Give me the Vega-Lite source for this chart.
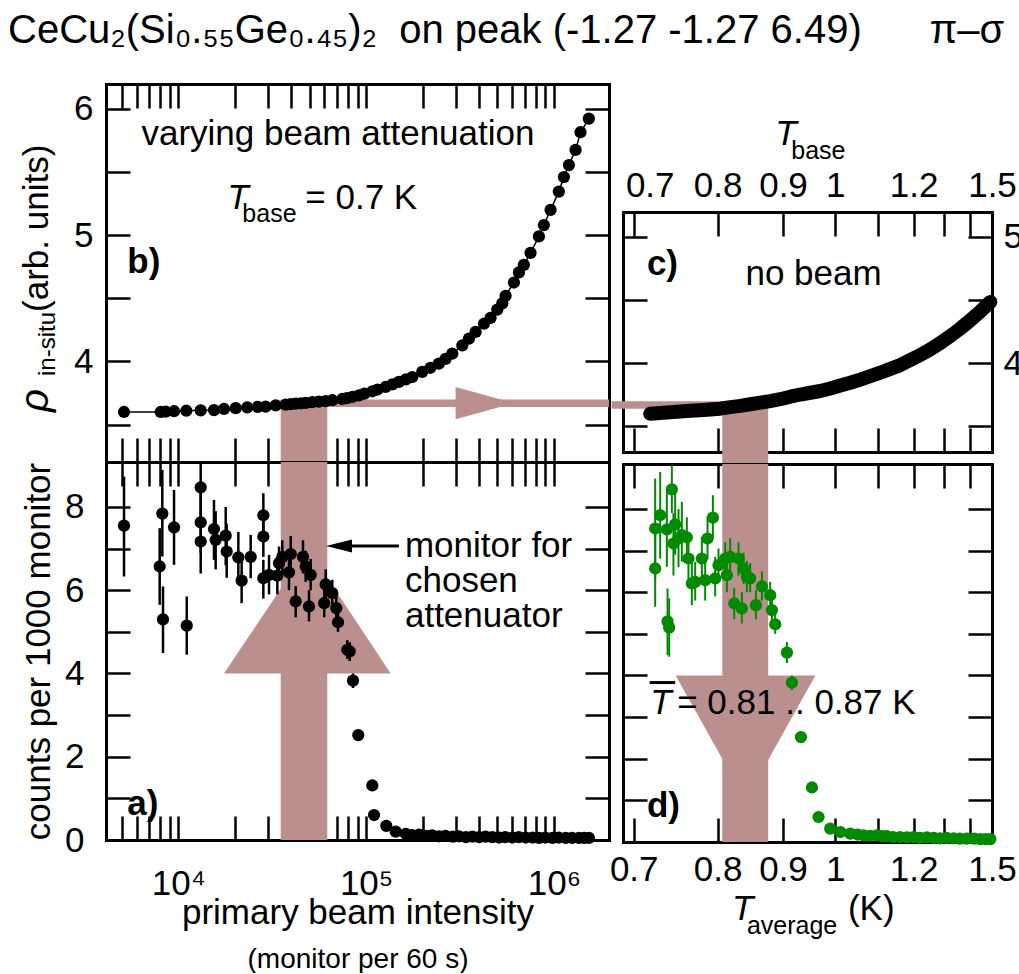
{
  "$schema": "https://vega.github.io/schema/vega-lite/v6.json",
  "background": "white",
  "padding": {"left": 8, "top": 10, "right": 0, "bottom": 0},
  "title": {"text": "CeCu₂(Si₀.₅₅Ge₀.₄₅)₂\u00a0 on peak (-1.27 -1.27 6.49)\u2003\u2002\u2009π–σ", "anchor": "start", "frame": "bounds", "fontSize": 40, "fontWeight": "normal", "font": "Liberation Sans", "color": "black", "baseline": "alphabetic", "offset": 0, "dx": -8},
  "config": {
    "font": "Liberation Sans",
    "view": {"stroke": null},
    "axis": {"grid": false, "domainColor": "black", "domainWidth": 3, "domainCap": "square", "tickColor": "black", "tickWidth": 2.5, "tickSize": -24, "labelFontSize": 35, "labelColor": "black", "labelFont": "Liberation Sans", "labelOverlap": false, "labelFlush": false, "titleFont": "Liberation Sans", "titleFontSize": 35, "titleFontWeight": "normal", "titleColor": "black", "zindex": 1},
    "text": {"font": "Liberation Sans", "fontSize": 35, "color": "black"}
  },
  "datasets": {
    "rho_beam": [
      {"mon": 5140, "rho": 3.600}, {"mon": 8060, "rho": 3.600}, {"mon": 8570, "rho": 3.602}, {"mon": 9490, "rho": 3.606},
      {"mon": 11030, "rho": 3.610}, {"mon": 13160, "rho": 3.613}, {"mon": 15490, "rho": 3.615}, {"mon": 17510, "rho": 3.624},
      {"mon": 20210, "rho": 3.630}, {"mon": 23290, "rho": 3.637}, {"mon": 26500, "rho": 3.641}, {"mon": 29170, "rho": 3.643},
      {"mon": 33000, "rho": 3.652}, {"mon": 37300, "rho": 3.658}, {"mon": 39700, "rho": 3.662}, {"mon": 42200, "rho": 3.666},
      {"mon": 45000, "rho": 3.669}, {"mon": 47700, "rho": 3.672}, {"mon": 51700, "rho": 3.678}, {"mon": 56000, "rho": 3.682},
      {"mon": 60900, "rho": 3.686}, {"mon": 66100, "rho": 3.693}, {"mon": 74700, "rho": 3.703}, {"mon": 79000, "rho": 3.710},
      {"mon": 84500, "rho": 3.719}, {"mon": 91700, "rho": 3.732}, {"mon": 98000, "rho": 3.745}, {"mon": 108000, "rho": 3.764},
      {"mon": 115000, "rho": 3.778}, {"mon": 127000, "rho": 3.798}, {"mon": 138000, "rho": 3.818}, {"mon": 149600, "rho": 3.838},
      {"mon": 163000, "rho": 3.858}, {"mon": 176200, "rho": 3.877}, {"mon": 199000, "rho": 3.917}, {"mon": 220000, "rho": 3.950},
      {"mon": 244000, "rho": 3.983}, {"mon": 265000, "rho": 4.020}, {"mon": 287700, "rho": 4.062}, {"mon": 325300, "rho": 4.128},
      {"mon": 353000, "rho": 4.181}, {"mon": 383000, "rho": 4.234}, {"mon": 424300, "rho": 4.299}, {"mon": 460000, "rho": 4.345},
      {"mon": 499400, "rho": 4.410}, {"mon": 531000, "rho": 4.460}, {"mon": 553000, "rho": 4.520}, {"mon": 612500, "rho": 4.625},
      {"mon": 651600, "rho": 4.705}, {"mon": 692000, "rho": 4.765}, {"mon": 751000, "rho": 4.860}, {"mon": 832000, "rho": 4.990},
      {"mon": 884000, "rho": 5.080}, {"mon": 960000, "rho": 5.200}, {"mon": 1062000, "rho": 5.345}, {"mon": 1130000, "rho": 5.460},
      {"mon": 1202000, "rho": 5.555}, {"mon": 1304000, "rho": 5.675}, {"mon": 1386000, "rho": 5.815}, {"mon": 1535000, "rho": 5.923}
    ],
    "cnt_beam": [
      {"mon": 5140, "cnt": 7.55, "lo": 6.33, "hi": 8.73}, {"mon": 7960, "cnt": 6.57, "lo": 5.65, "hi": 7.49},
      {"mon": 8220, "cnt": 7.84, "lo": 6.81, "hi": 8.89}, {"mon": 8290, "cnt": 5.30, "lo": 4.49, "hi": 6.09},
      {"mon": 9490, "cnt": 7.51, "lo": 6.61, "hi": 8.41}, {"mon": 11090, "cnt": 5.15, "lo": 4.45, "hi": 5.85},
      {"mon": 13160, "cnt": 8.47, "lo": 7.90, "hi": 9.05}, {"mon": 13160, "cnt": 7.63, "lo": 6.90, "hi": 8.40},
      {"mon": 13160, "cnt": 7.17, "lo": 6.40, "hi": 7.90}, {"mon": 15490, "cnt": 7.47, "lo": 6.73, "hi": 8.17},
      {"mon": 15810, "cnt": 7.21, "lo": 6.50, "hi": 7.90}, {"mon": 17880, "cnt": 7.31, "lo": 6.60, "hi": 8.00},
      {"mon": 18100, "cnt": 6.93, "lo": 6.30, "hi": 7.60}, {"mon": 20880, "cnt": 6.79, "lo": 6.20, "hi": 7.40},
      {"mon": 21740, "cnt": 6.23, "lo": 5.69, "hi": 6.77}, {"mon": 24290, "cnt": 6.80, "lo": 6.29, "hi": 7.33},
      {"mon": 28370, "cnt": 7.80, "lo": 7.29, "hi": 8.33}, {"mon": 28370, "cnt": 7.29, "lo": 6.80, "hi": 7.80},
      {"mon": 28370, "cnt": 6.29, "lo": 5.80, "hi": 6.73}, {"mon": 30410, "cnt": 6.37, "lo": 5.90, "hi": 6.85},
      {"mon": 33680, "cnt": 6.35, "lo": 5.90, "hi": 6.80}, {"mon": 34380, "cnt": 6.65, "lo": 6.25, "hi": 7.05},
      {"mon": 35800, "cnt": 6.80, "lo": 6.40, "hi": 7.20}, {"mon": 38850, "cnt": 6.43, "lo": 6.00, "hi": 6.85},
      {"mon": 39700, "cnt": 6.87, "lo": 6.45, "hi": 7.30}, {"mon": 42170, "cnt": 5.73, "lo": 5.35, "hi": 6.10},
      {"mon": 46130, "cnt": 6.80, "lo": 6.40, "hi": 7.20}, {"mon": 47670, "cnt": 6.57, "lo": 6.20, "hi": 6.95},
      {"mon": 49640, "cnt": 5.61, "lo": 5.25, "hi": 6.00}, {"mon": 50670, "cnt": 6.37, "lo": 6.00, "hi": 6.75},
      {"mon": 59840, "cnt": 5.69, "lo": 5.35, "hi": 6.05}, {"mon": 60920, "cnt": 6.14, "lo": 5.80, "hi": 6.50},
      {"mon": 66070, "cnt": 5.93, "lo": 5.60, "hi": 6.25}, {"mon": 69350, "cnt": 5.57, "lo": 5.30, "hi": 5.85},
      {"mon": 70850, "cnt": 5.23, "lo": 5.00, "hi": 5.50}, {"mon": 79400, "cnt": 4.57, "lo": 4.35, "hi": 4.80},
      {"mon": 81770, "cnt": 4.53, "lo": 4.30, "hi": 4.75}, {"mon": 85150, "cnt": 3.83, "lo": 3.65, "hi": 4.00},
      {"mon": 90850, "cnt": 2.52, "lo": 2.40, "hi": 2.65}, {"mon": 107900, "cnt": 1.31, "lo": 1.22, "hi": 1.40},
      {"mon": 110200, "cnt": 0.60, "lo": 0.55, "hi": 0.65}, {"mon": 128100, "cnt": 0.34, "lo": 0.30, "hi": 0.38},
      {"mon": 143800, "cnt": 0.20}, {"mon": 162500, "cnt": 0.15}, {"mon": 175000, "cnt": 0.12}, {"mon": 191300, "cnt": 0.13},
      {"mon": 210000, "cnt": 0.10}, {"mon": 225000, "cnt": 0.11}, {"mon": 245000, "cnt": 0.09}, {"mon": 264800, "cnt": 0.10},
      {"mon": 290000, "cnt": 0.08}, {"mon": 312500, "cnt": 0.09}, {"mon": 340000, "cnt": 0.07}, {"mon": 368000, "cnt": 0.08},
      {"mon": 400000, "cnt": 0.07}, {"mon": 432500, "cnt": 0.08}, {"mon": 470000, "cnt": 0.07}, {"mon": 510300, "cnt": 0.06},
      {"mon": 550000, "cnt": 0.07}, {"mon": 600800, "cnt": 0.06}, {"mon": 650000, "cnt": 0.07}, {"mon": 707900, "cnt": 0.06},
      {"mon": 770000, "cnt": 0.06}, {"mon": 833700, "cnt": 0.05}, {"mon": 900000, "cnt": 0.06}, {"mon": 981700, "cnt": 0.05},
      {"mon": 1060000, "cnt": 0.06}, {"mon": 1156000, "cnt": 0.05}, {"mon": 1250000, "cnt": 0.05}, {"mon": 1361000, "cnt": 0.05},
      {"mon": 1450000, "cnt": 0.05}, {"mon": 1535000, "cnt": 0.05}
    ],
    "rho_T": [
      {"T": 0.7176, "rho": 3.600}, {"T": 0.7287, "rho": 3.606}, {"T": 0.7402, "rho": 3.612}, {"T": 0.7520, "rho": 3.617},
      {"T": 0.7642, "rho": 3.623}, {"T": 0.7769, "rho": 3.628}, {"T": 0.7899, "rho": 3.634}, {"T": 0.8034, "rho": 3.640},
      {"T": 0.8174, "rho": 3.652}, {"T": 0.8319, "rho": 3.662}, {"T": 0.8468, "rho": 3.675}, {"T": 0.8624, "rho": 3.688},
      {"T": 0.8785, "rho": 3.700}, {"T": 0.8952, "rho": 3.715}, {"T": 0.9126, "rho": 3.735}, {"T": 0.9307, "rho": 3.752},
      {"T": 0.9495, "rho": 3.766}, {"T": 0.9691, "rho": 3.780}, {"T": 0.9895, "rho": 3.800}, {"T": 1.0108, "rho": 3.823},
      {"T": 1.0330, "rho": 3.845}, {"T": 1.0562, "rho": 3.870}, {"T": 1.0805, "rho": 3.897}, {"T": 1.1059, "rho": 3.925},
      {"T": 1.1325, "rho": 3.955}, {"T": 1.1605, "rho": 3.985}, {"T": 1.1899, "rho": 4.025}, {"T": 1.2208, "rho": 4.065},
      {"T": 1.2533, "rho": 4.110}, {"T": 1.2877, "rho": 4.160}, {"T": 1.3239, "rho": 4.215}, {"T": 1.3623, "rho": 4.275},
      {"T": 1.4030, "rho": 4.340}, {"T": 1.4462, "rho": 4.410}, {"T": 1.4921, "rho": 4.485}
    ],
    "cnt_T": [
      {"T": 0.7231, "cnt": 7.53, "lo": 6.33, "hi": 8.73}, {"T": 0.7231, "cnt": 6.57, "lo": 5.65, "hi": 7.49},
      {"T": 0.7287, "cnt": 7.85, "lo": 6.81, "hi": 8.89}, {"T": 0.7363, "cnt": 7.51, "lo": 6.61, "hi": 8.41},
      {"T": 0.7371, "cnt": 5.30, "lo": 4.49, "hi": 6.09}, {"T": 0.7390, "cnt": 5.15, "lo": 4.45, "hi": 5.85},
      {"T": 0.7421, "cnt": 8.47, "lo": 7.90, "hi": 9.05}, {"T": 0.7460, "cnt": 7.63, "lo": 6.90, "hi": 8.40},
      {"T": 0.7440, "cnt": 7.17, "lo": 6.40, "hi": 7.90}, {"T": 0.7500, "cnt": 7.29, "lo": 6.60, "hi": 8.00},
      {"T": 0.7540, "cnt": 7.37, "lo": 6.73, "hi": 8.17}, {"T": 0.7601, "cnt": 7.32, "lo": 6.80, "hi": 7.80},
      {"T": 0.7621, "cnt": 6.81, "lo": 6.20, "hi": 7.40}, {"T": 0.7663, "cnt": 6.21, "lo": 5.69, "hi": 6.77},
      {"T": 0.7705, "cnt": 6.25, "lo": 5.80, "hi": 6.73}, {"T": 0.7790, "cnt": 6.81, "lo": 6.29, "hi": 7.33},
      {"T": 0.7833, "cnt": 6.29, "lo": 5.80, "hi": 6.80}, {"T": 0.7864, "cnt": 7.29, "lo": 6.80, "hi": 7.80},
      {"T": 0.7935, "cnt": 7.79, "lo": 7.29, "hi": 8.33}, {"T": 0.7966, "cnt": 6.33, "lo": 5.90, "hi": 6.85},
      {"T": 0.8011, "cnt": 6.65, "lo": 6.25, "hi": 7.05}, {"T": 0.8103, "cnt": 6.81, "lo": 6.40, "hi": 7.20},
      {"T": 0.8127, "cnt": 6.41, "lo": 6.00, "hi": 6.85}, {"T": 0.8174, "cnt": 6.85, "lo": 6.45, "hi": 7.30},
      {"T": 0.8231, "cnt": 5.73, "lo": 5.35, "hi": 6.10}, {"T": 0.8294, "cnt": 6.81, "lo": 6.40, "hi": 7.20},
      {"T": 0.8343, "cnt": 5.61, "lo": 5.25, "hi": 6.00}, {"T": 0.8368, "cnt": 6.57, "lo": 6.20, "hi": 6.95},
      {"T": 0.8418, "cnt": 6.37, "lo": 6.00, "hi": 6.75}, {"T": 0.8468, "cnt": 6.33, "lo": 6.00, "hi": 6.70},
      {"T": 0.8556, "cnt": 5.69, "lo": 5.35, "hi": 6.05}, {"T": 0.8651, "cnt": 6.14, "lo": 5.80, "hi": 6.50},
      {"T": 0.8785, "cnt": 5.93, "lo": 5.60, "hi": 6.25}, {"T": 0.8813, "cnt": 5.57, "lo": 5.30, "hi": 5.85},
      {"T": 0.8868, "cnt": 5.23, "lo": 5.00, "hi": 5.50}, {"T": 0.9068, "cnt": 4.55, "lo": 4.30, "hi": 4.80},
      {"T": 0.9156, "cnt": 3.83, "lo": 3.65, "hi": 4.00}, {"T": 0.9320, "cnt": 2.52, "lo": 2.40, "hi": 2.65},
      {"T": 0.9528, "cnt": 1.31, "lo": 1.22, "hi": 1.40}, {"T": 0.9657, "cnt": 0.60, "lo": 0.55, "hi": 0.65},
      {"T": 0.9895, "cnt": 0.32, "lo": 0.29, "hi": 0.35},
      {"T": 1.011, "cnt": 0.24}, {"T": 1.033, "cnt": 0.20}, {"T": 1.050, "cnt": 0.18}, {"T": 1.064, "cnt": 0.16},
      {"T": 1.080, "cnt": 0.15}, {"T": 1.097, "cnt": 0.16}, {"T": 1.110, "cnt": 0.14}, {"T": 1.123, "cnt": 0.14},
      {"T": 1.140, "cnt": 0.12}, {"T": 1.160, "cnt": 0.12}, {"T": 1.180, "cnt": 0.11}, {"T": 1.200, "cnt": 0.12},
      {"T": 1.220, "cnt": 0.10}, {"T": 1.242, "cnt": 0.11}, {"T": 1.265, "cnt": 0.10}, {"T": 1.287, "cnt": 0.09},
      {"T": 1.310, "cnt": 0.10}, {"T": 1.336, "cnt": 0.09}, {"T": 1.360, "cnt": 0.08}, {"T": 1.388, "cnt": 0.08},
      {"T": 1.420, "cnt": 0.08}, {"T": 1.446, "cnt": 0.07}, {"T": 1.470, "cnt": 0.07}, {"T": 1.492, "cnt": 0.07}
    ],
    "head_a": [{"mon": 17500, "base": 4.0, "tip": 4.0}, {"mon": 48900, "base": 4.0, "tip": 7.0}, {"mon": 135200, "base": 4.0, "tip": 4.0}],
    "head_b": [{"rho": 3.798, "from": 299800, "to": 299800}, {"rho": 3.670, "from": 299800, "to": 613400}, {"rho": 3.542, "from": 299800, "to": 299800}],
    "head_d": [{"T": 0.7466, "base": 4.0, "tip": 4.0}, {"T": 0.8398, "base": 4.0, "tip": 1.0}, {"T": 0.9595, "base": 4.0, "tip": 4.0}]
  },
  "spacing": -2,
  "hconcat": [
    {
      "bounds": "flush",
      "spacing": 0,
      "vconcat": [
        {
          "width": 503, "height": 378,
          "resolve": {"axis": {"x": "independent", "y": "independent"}},
          "layer": [
            {"data": {"values": [{}]}, "mark": {"type": "rect", "color": "#bc8f8f"},
             "encoding": {"x": {"datum": 35100, "type": "quantitative", "scale": {"type": "log", "domain": [4121, 1965000], "nice": false}, "axis": null}, "x2": {"datum": 62130},
                          "y": {"datum": 3.204, "type": "quantitative", "scale": {"domain": [3.204, 6.197], "nice": false, "zero": false}, "axis": null}, "y2": {"datum": 3.699}}},
            {"data": {"values": [{}]}, "mark": {"type": "rect", "color": "#bc8f8f"},
             "encoding": {"x": {"datum": 60000, "type": "quantitative", "scale": {"type": "log", "domain": [4121, 1965000], "nice": false}, "axis": null}, "x2": {"datum": 1965000},
                          "y": {"datum": 3.640, "type": "quantitative", "scale": {"domain": [3.204, 6.197], "nice": false, "zero": false}, "axis": null}, "y2": {"datum": 3.699}}},
            {"data": {"name": "head_b"}, "mark": {"type": "area", "orient": "horizontal", "color": "#bc8f8f", "opacity": 1},
             "encoding": {"y": {"field": "rho", "type": "quantitative", "scale": {"domain": [3.204, 6.197], "nice": false, "zero": false}, "axis": null},
                          "x": {"field": "from", "type": "quantitative", "scale": {"type": "log", "domain": [4121, 1965000], "nice": false}, "axis": null}, "x2": {"field": "to"}}},
            {"data": {"name": "rho_beam"}, "mark": {"type": "line", "color": "black", "strokeWidth": 1.5},
             "encoding": {
               "x": {"field": "mon", "type": "quantitative", "scale": {"type": "log", "domain": [4121, 1965000], "nice": false},
                     "axis": {"orient": "top", "values": [5000,6000,7000,8000,9000,10000,20000,30000,40000,50000,60000,70000,80000,90000,100000,200000,300000,400000,500000,600000,700000,800000,900000,1000000], "labels": false, "title": null,
                              "encode": {"ticks": {"update": {"y2": {"signal": "datum.value == 10000 || datum.value == 100000 || datum.value == 1000000 ? 24 : 12"}}}}}},
               "y": {"field": "rho", "type": "quantitative", "scale": {"domain": [3.204, 6.197], "nice": false, "zero": false},
                     "axis": {"orient": "right", "values": [3.5,4,4.5,5,5.5,6], "labels": false, "title": null,
                              "encode": {"ticks": {"update": {"x2": {"signal": "datum.value % 1 == 0 ? -24 : -12"}}}}}}}},
            {"data": {"name": "rho_beam"}, "mark": {"type": "circle", "color": "black", "opacity": 1, "size": 150},
             "encoding": {
               "x": {"field": "mon", "type": "quantitative", "scale": {"type": "log", "domain": [4121, 1965000], "nice": false},
                     "axis": {"orient": "bottom", "values": [5000,6000,7000,8000,9000,10000,20000,30000,40000,50000,60000,70000,80000,90000,100000,200000,300000,400000,500000,600000,700000,800000,900000,1000000], "labels": false, "title": null,
                              "encode": {"ticks": {"update": {"y2": {"signal": "datum.value == 10000 || datum.value == 100000 || datum.value == 1000000 ? -24 : -12"}}}}}},
               "y": {"field": "rho", "type": "quantitative", "scale": {"domain": [3.204, 6.197], "nice": false, "zero": false},
                     "axis": {"orient": "left", "values": [3.5,4,4.5,5,5.5,6], "labelExpr": "datum.value % 1 == 0 ? '' + datum.value : ''", "labelPadding": 37, "title": null,
                              "encode": {"ticks": {"update": {"x2": {"signal": "datum.value % 1 == 0 ? 24 : 12"}}}}}}}},
            {"data": {"values": [{}]}, "mark": {"type": "text", "text": "varying beam attenuation", "align": "center", "baseline": "alphabetic"},
             "encoding": {"x": {"datum": 70800, "type": "quantitative", "scale": {"type": "log", "domain": [4121, 1965000], "nice": false}, "axis": null},
                          "y": {"datum": 5.712, "type": "quantitative", "scale": {"domain": [3.204, 6.197], "nice": false, "zero": false}, "axis": null}}},
            {"data": {"values": [{}]}, "mark": {"type": "text", "text": "T", "fontStyle": "italic", "align": "left", "baseline": "alphabetic"},
             "encoding": {"x": {"datum": 18240, "type": "quantitative", "scale": {"type": "log", "domain": [4121, 1965000], "nice": false}, "axis": null},
                          "y": {"datum": 5.207, "type": "quantitative", "scale": {"domain": [3.204, 6.197], "nice": false, "zero": false}, "axis": null}}},
            {"data": {"values": [{}]}, "mark": {"type": "text", "text": "base", "fontSize": 25, "dx": 15, "dy": 13, "align": "left", "baseline": "alphabetic"},
             "encoding": {"x": {"datum": 18240, "type": "quantitative", "scale": {"type": "log", "domain": [4121, 1965000], "nice": false}, "axis": null},
                          "y": {"datum": 5.207, "type": "quantitative", "scale": {"domain": [3.204, 6.197], "nice": false, "zero": false}, "axis": null}}},
            {"data": {"values": [{}]}, "mark": {"type": "text", "text": "= 0.7 K", "dx": 78, "align": "left", "baseline": "alphabetic"},
             "encoding": {"x": {"datum": 18240, "type": "quantitative", "scale": {"type": "log", "domain": [4121, 1965000], "nice": false}, "axis": null},
                          "y": {"datum": 5.207, "type": "quantitative", "scale": {"domain": [3.204, 6.197], "nice": false, "zero": false}, "axis": null}}},
            {"data": {"values": [{}]}, "mark": {"type": "text", "text": "b)", "fontWeight": "bold", "align": "left", "baseline": "alphabetic"},
             "encoding": {"x": {"datum": 5350, "type": "quantitative", "scale": {"type": "log", "domain": [4121, 1965000], "nice": false}, "axis": null},
                          "y": {"datum": 4.70, "type": "quantitative", "scale": {"domain": [3.204, 6.197], "nice": false, "zero": false}, "axis": null}}},
            {"data": {"values": [{}]}, "mark": {"type": "text", "text": "ρ", "fontStyle": "italic", "fontSize": 40, "angle": 270, "align": "left", "baseline": "alphabetic"},
             "encoding": {"x": {"datum": 2024, "type": "quantitative", "scale": {"type": "log", "domain": [4121, 1965000], "nice": false}, "axis": null},
                          "y": {"datum": 3.600, "type": "quantitative", "scale": {"domain": [3.204, 6.197], "nice": false, "zero": false}, "axis": null}}},
            {"data": {"values": [{}]}, "mark": {"type": "text", "text": "in-situ", "fontSize": 24, "angle": 270, "dx": 36, "dy": 7, "align": "left", "baseline": "alphabetic"},
             "encoding": {"x": {"datum": 2024, "type": "quantitative", "scale": {"type": "log", "domain": [4121, 1965000], "nice": false}, "axis": null},
                          "y": {"datum": 3.600, "type": "quantitative", "scale": {"domain": [3.204, 6.197], "nice": false, "zero": false}, "axis": null}}},
            {"data": {"values": [{}]}, "mark": {"type": "text", "text": "(arb. units)", "angle": 270, "dx": 100, "align": "left", "baseline": "alphabetic"},
             "encoding": {"x": {"datum": 2024, "type": "quantitative", "scale": {"type": "log", "domain": [4121, 1965000], "nice": false}, "axis": null},
                          "y": {"datum": 3.600, "type": "quantitative", "scale": {"domain": [3.204, 6.197], "nice": false, "zero": false}, "axis": null}}}
          ]
        },
        {
          "width": 503, "height": 378,
          "resolve": {"axis": {"x": "independent", "y": "independent"}},
          "layer": [
            {"data": {"values": [{}]}, "mark": {"type": "rect", "color": "#bc8f8f"},
             "encoding": {"x": {"datum": 35100, "type": "quantitative", "scale": {"type": "log", "domain": [4121, 1965000], "nice": false}, "axis": null}, "x2": {"datum": 62130},
                          "y": {"datum": 0, "type": "quantitative", "scale": {"domain": [0, 9.08], "nice": false, "zero": false}, "axis": null}, "y2": {"datum": 9.08}}},
            {"data": {"name": "head_a"}, "mark": {"type": "area", "color": "#bc8f8f", "opacity": 1},
             "encoding": {"x": {"field": "mon", "type": "quantitative", "scale": {"type": "log", "domain": [4121, 1965000], "nice": false}, "axis": null},
                          "y": {"field": "base", "type": "quantitative", "scale": {"domain": [0, 9.08], "nice": false, "zero": false}, "axis": null}, "y2": {"field": "tip"}}},
            {"data": {"name": "cnt_beam"}, "mark": {"type": "rule", "color": "black", "strokeWidth": 2.5},
             "encoding": {
               "x": {"field": "mon", "type": "quantitative", "scale": {"type": "log", "domain": [4121, 1965000], "nice": false},
                     "axis": {"orient": "top", "values": [5000,6000,7000,8000,9000,10000,20000,30000,40000,50000,60000,70000,80000,90000,100000,200000,300000,400000,500000,600000,700000,800000,900000,1000000], "labels": false, "title": null,
                              "encode": {"ticks": {"update": {"y2": {"signal": "datum.value == 10000 || datum.value == 100000 || datum.value == 1000000 ? 24 : 12"}}}}}},
               "y": {"field": "lo", "type": "quantitative", "scale": {"domain": [0, 9.08], "nice": false, "zero": false},
                     "axis": {"orient": "right", "values": [0,1,2,3,4,5,6,7,8], "labels": false, "title": null,
                              "encode": {"ticks": {"update": {"x2": {"signal": "datum.value % 2 == 0 ? -24 : -12"}}}}}},
               "y2": {"field": "hi"}}},
            {"data": {"name": "cnt_beam"}, "mark": {"type": "circle", "color": "black", "opacity": 1, "size": 150},
             "encoding": {
               "x": {"field": "mon", "type": "quantitative", "scale": {"type": "log", "domain": [4121, 1965000], "nice": false},
                     "axis": {"orient": "bottom", "values": [5000,6000,7000,8000,9000,10000,20000,30000,40000,50000,60000,70000,80000,90000,100000,200000,300000,400000,500000,600000,700000,800000,900000,1000000],
                              "labelExpr": "datum.value == 10000 ? '10⁴' : datum.value == 100000 ? '10⁵' : datum.value == 1000000 ? '10⁶' : ''", "labelPadding": 50,
                              "title": "primary beam intensity", "titleY": 83, "titleBaseline": "alphabetic",
                              "encode": {"ticks": {"update": {"y2": {"signal": "datum.value == 10000 || datum.value == 100000 || datum.value == 1000000 ? -24 : -12"}}}}}},
               "y": {"field": "cnt", "type": "quantitative", "scale": {"domain": [0, 9.08], "nice": false, "zero": false},
                     "axis": {"orient": "left", "values": [0,1,2,3,4,5,6,7,8], "labelExpr": "datum.value % 2 == 0 ? '' + datum.value : ''", "labelPadding": 46,
                              "title": "counts per 1000 monitor", "titleX": -57, "titleBaseline": "alphabetic",
                              "encode": {"ticks": {"update": {"x2": {"signal": "datum.value % 2 == 0 ? 24 : 12"}}}}}}}},
            {"data": {"values": [{}]}, "mark": {"type": "rule", "color": "black", "strokeWidth": 3},
             "encoding": {"x": {"datum": 84100, "type": "quantitative", "scale": {"type": "log", "domain": [4121, 1965000], "nice": false},
                                "axis": {"orient": "bottom", "domain": false, "ticks": false, "labels": false, "title": "(monitor per 60 s)", "titleFontSize": 28, "titleY": 127, "titleBaseline": "alphabetic"}},
                          "x2": {"datum": 149600},
                          "y": {"datum": 7.06, "type": "quantitative", "scale": {"domain": [0, 9.08], "nice": false, "zero": false}, "axis": null}}},
            {"data": {"values": [{}]}, "mark": {"type": "point", "shape": "M -1 0 L 1 -0.5 L 1 0.5 Z", "size": 676, "filled": true, "color": "black", "opacity": 1},
             "encoding": {"x": {"datum": 71740, "type": "quantitative", "scale": {"type": "log", "domain": [4121, 1965000], "nice": false}, "axis": null},
                          "y": {"datum": 7.06, "type": "quantitative", "scale": {"domain": [0, 9.08], "nice": false, "zero": false}, "axis": null}}},
            {"data": {"values": [{}]}, "mark": {"type": "text", "text": ["monitor for", "chosen", "attenuator"], "align": "left", "baseline": "middle", "lineHeight": 35},
             "encoding": {"x": {"datum": 161000, "type": "quantitative", "scale": {"type": "log", "domain": [4121, 1965000], "nice": false}, "axis": null},
                          "y": {"datum": 7.06, "type": "quantitative", "scale": {"domain": [0, 9.08], "nice": false, "zero": false}, "axis": null}}},
            {"data": {"values": [{}]}, "mark": {"type": "text", "text": "a)", "fontWeight": "bold", "align": "left", "baseline": "alphabetic"},
             "encoding": {"x": {"datum": 5350, "type": "quantitative", "scale": {"type": "log", "domain": [4121, 1965000], "nice": false}, "axis": null},
                          "y": {"datum": 0.60, "type": "quantitative", "scale": {"domain": [0, 9.08], "nice": false, "zero": false}, "axis": null}}}
          ]
        }
      ]
    },
    {
      "bounds": "flush",
      "spacing": 12,
      "vconcat": [
        {"width": 369, "height": 116, "data": {"values": []}, "mark": "point", "encoding": {}},
        {
          "width": 369, "height": 240,
          "resolve": {"axis": {"x": "independent", "y": "independent"}},
          "layer": [
            {"data": {"values": [{}]}, "mark": {"type": "rect", "color": "#bc8f8f"},
             "encoding": {"x": {"datum": 0.6777, "type": "quantitative", "scale": {"type": "pow", "exponent": -1, "domain": [0.689, 1.5], "nice": false, "zero": false}, "axis": null}, "x2": {"datum": 0.8062},
                          "y": {"datum": 3.640, "type": "quantitative", "scale": {"domain": [3.297, 5.197], "nice": false, "zero": false}, "axis": null}, "y2": {"datum": 3.699}}},
            {"data": {"values": [{}]}, "mark": {"type": "rect", "color": "#bc8f8f"},
             "encoding": {"x": {"datum": 0.8062, "type": "quantitative", "scale": {"type": "pow", "exponent": -1, "domain": [0.689, 1.5], "nice": false, "zero": false}, "axis": null}, "x2": {"datum": 0.8752},
                          "y": {"datum": 3.204, "type": "quantitative", "scale": {"domain": [3.297, 5.197], "nice": false, "zero": false}, "axis": null}, "y2": {"datum": 3.699}}},
            {"data": {"name": "rho_T"}, "mark": {"type": "line", "color": "black", "strokeWidth": 14, "strokeCap": "round", "strokeJoin": "round"},
             "encoding": {
               "x": {"field": "T", "type": "quantitative", "scale": {"type": "pow", "exponent": -1, "domain": [0.689, 1.5], "nice": false, "zero": false},
                     "axis": {"orient": "bottom", "values": [0.7,0.8,0.9,1,1.1,1.2,1.3,1.4,1.5], "labels": false, "title": null,
                              "encode": {"ticks": {"update": {"y2": {"signal": "datum.value != 1.1 && datum.value != 1.3 && datum.value != 1.4 ? -24 : -12"}}}}}},
               "y": {"field": "rho", "type": "quantitative", "scale": {"domain": [3.297, 5.197], "nice": false, "zero": false},
                     "axis": {"orient": "left", "values": [3.5,4,4.5,5], "labels": false, "title": null,
                              "encode": {"ticks": {"update": {"x2": {"signal": "datum.value % 1 == 0 ? 24 : 12"}}}}}}}},
            {"data": {"name": "rho_T"}, "mark": {"type": "circle", "color": "black", "opacity": 1, "size": 150},
             "encoding": {
               "x": {"field": "T", "type": "quantitative", "scale": {"type": "pow", "exponent": -1, "domain": [0.689, 1.5], "nice": false, "zero": false},
                     "axis": {"orient": "top", "values": [0.7,0.8,0.9,1,1.1,1.2,1.3,1.4,1.5], "labelExpr": "datum.value == 1.1 || datum.value == 1.3 || datum.value == 1.4 ? '' : '' + datum.value", "labelPadding": 33, "title": null,
                              "labelOffset": {"condition": {"test": "datum.value == 0.7", "value": 16}, "value": 0},
                              "encode": {"ticks": {"update": {"y2": {"signal": "datum.value != 1.1 && datum.value != 1.3 && datum.value != 1.4 ? 24 : 12"}}}}}},
               "y": {"field": "rho", "type": "quantitative", "scale": {"domain": [3.297, 5.197], "nice": false, "zero": false},
                     "axis": {"orient": "right", "values": [3.5,4,4.5,5], "labelExpr": "datum.value % 1 == 0 ? '' + datum.value : ''", "labelPadding": 35, "title": null,
                              "encode": {"ticks": {"update": {"x2": {"signal": "datum.value % 1 == 0 ? -24 : -12"}}}}}}}},
            {"data": {"values": [{}]}, "mark": {"type": "text", "text": "c)", "fontWeight": "bold", "align": "left", "baseline": "alphabetic"},
             "encoding": {"x": {"datum": 0.714, "type": "quantitative", "scale": {"type": "pow", "exponent": -1, "domain": [0.689, 1.5], "nice": false, "zero": false}, "axis": null},
                          "y": {"datum": 4.70, "type": "quantitative", "scale": {"domain": [3.297, 5.197], "nice": false, "zero": false}, "axis": null}}},
            {"data": {"values": [{}]}, "mark": {"type": "text", "text": "no beam", "align": "center", "baseline": "alphabetic"},
             "encoding": {"x": {"datum": 0.9559, "type": "quantitative", "scale": {"type": "pow", "exponent": -1, "domain": [0.689, 1.5], "nice": false, "zero": false}, "axis": null},
                          "y": {"datum": 4.616, "type": "quantitative", "scale": {"domain": [3.297, 5.197], "nice": false, "zero": false}, "axis": null}}},
            {"data": {"values": [{}]}, "mark": {"type": "text", "text": "T", "fontStyle": "italic", "align": "left", "baseline": "alphabetic"},
             "encoding": {"x": {"datum": 0.8868, "type": "quantitative", "scale": {"type": "pow", "exponent": -1, "domain": [0.689, 1.5], "nice": false, "zero": false}, "axis": null},
                          "y": {"datum": 5.725, "type": "quantitative", "scale": {"domain": [3.297, 5.197], "nice": false, "zero": false}, "axis": null}}},
            {"data": {"values": [{}]}, "mark": {"type": "text", "text": "base", "fontSize": 25, "dx": 16, "dy": 14, "align": "left", "baseline": "alphabetic"},
             "encoding": {"x": {"datum": 0.8868, "type": "quantitative", "scale": {"type": "pow", "exponent": -1, "domain": [0.689, 1.5], "nice": false, "zero": false}, "axis": null},
                          "y": {"datum": 5.725, "type": "quantitative", "scale": {"domain": [3.297, 5.197], "nice": false, "zero": false}, "axis": null}}}
          ]
        },
        {
          "width": 369, "height": 378,
          "resolve": {"axis": {"x": "independent", "y": "independent"}},
          "layer": [
            {"data": {"values": [{}]}, "mark": {"type": "rect", "color": "#bc8f8f"},
             "encoding": {"x": {"datum": 0.8062, "type": "quantitative", "scale": {"type": "pow", "exponent": -1, "domain": [0.689, 1.5], "nice": false, "zero": false}, "axis": null}, "x2": {"datum": 0.8752},
                          "y": {"datum": 0, "type": "quantitative", "scale": {"domain": [0, 9.08], "nice": false, "zero": false}, "axis": null}, "y2": {"datum": 9.08}}},
            {"data": {"name": "head_d"}, "mark": {"type": "area", "color": "#bc8f8f", "opacity": 1},
             "encoding": {"x": {"field": "T", "type": "quantitative", "scale": {"type": "pow", "exponent": -1, "domain": [0.689, 1.5], "nice": false, "zero": false}, "axis": null},
                          "y": {"field": "base", "type": "quantitative", "scale": {"domain": [0, 9.08], "nice": false, "zero": false}, "axis": null}, "y2": {"field": "tip"}}},
            {"data": {"name": "cnt_T"}, "mark": {"type": "rule", "color": "#008a00", "strokeWidth": 2},
             "encoding": {
               "x": {"field": "T", "type": "quantitative", "scale": {"type": "pow", "exponent": -1, "domain": [0.689, 1.5], "nice": false, "zero": false},
                     "axis": {"orient": "top", "values": [0.7,0.8,0.9,1,1.1,1.2,1.3,1.4,1.5], "labels": false, "title": null,
                              "encode": {"ticks": {"update": {"y2": {"signal": "datum.value != 1.1 && datum.value != 1.3 && datum.value != 1.4 ? 24 : 12"}}}}}},
               "y": {"field": "lo", "type": "quantitative", "scale": {"domain": [0, 9.08], "nice": false, "zero": false},
                     "axis": {"orient": "right", "values": [0,1,2,3,4,5,6,7,8], "labels": false, "title": null,
                              "encode": {"ticks": {"update": {"x2": {"signal": "datum.value % 2 == 0 ? -24 : -12"}}}}}},
               "y2": {"field": "hi"}}},
            {"data": {"name": "cnt_T"}, "mark": {"type": "circle", "color": "#008a00", "opacity": 1, "size": 150},
             "encoding": {
               "x": {"field": "T", "type": "quantitative", "scale": {"type": "pow", "exponent": -1, "domain": [0.689, 1.5], "nice": false, "zero": false},
                     "axis": {"orient": "bottom", "values": [0.7,0.8,0.9,1,1.1,1.2,1.3,1.4,1.5], "labelExpr": "datum.value == 1.1 || datum.value == 1.3 || datum.value == 1.4 ? '' : '' + datum.value", "labelPadding": 34, "title": null,
                              "encode": {"ticks": {"update": {"y2": {"signal": "datum.value != 1.1 && datum.value != 1.3 && datum.value != 1.4 ? -24 : -12"}}}}}},
               "y": {"field": "cnt", "type": "quantitative", "scale": {"domain": [0, 9.08], "nice": false, "zero": false},
                     "axis": {"orient": "left", "values": [0,1,2,3,4,5,6,7,8], "labels": false, "title": null,
                              "encode": {"ticks": {"update": {"x2": {"signal": "datum.value % 2 == 0 ? 24 : 12"}}}}}}}},
            {"data": {"values": [{}]}, "mark": {"type": "rule", "color": "black", "strokeWidth": 3},
             "encoding": {"x": {"datum": 0.7170, "type": "quantitative", "scale": {"type": "pow", "exponent": -1, "domain": [0.689, 1.5], "nice": false, "zero": false}, "axis": null}, "x2": {"datum": 0.7460},
                          "y": {"datum": 3.83, "type": "quantitative", "scale": {"domain": [0, 9.08], "nice": false, "zero": false}, "axis": null}}},
            {"data": {"values": [{}]}, "mark": {"type": "text", "text": "T", "fontStyle": "italic", "align": "left", "baseline": "alphabetic"},
             "encoding": {"x": {"datum": 0.7176, "type": "quantitative", "scale": {"type": "pow", "exponent": -1, "domain": [0.689, 1.5], "nice": false, "zero": false}, "axis": null},
                          "y": {"datum": 3.08, "type": "quantitative", "scale": {"domain": [0, 9.08], "nice": false, "zero": false}, "axis": null}}},
            {"data": {"values": [{}]}, "mark": {"type": "text", "text": "= 0.81 .. 0.87 K", "dx": 27, "align": "left", "baseline": "alphabetic"},
             "encoding": {"x": {"datum": 0.7176, "type": "quantitative", "scale": {"type": "pow", "exponent": -1, "domain": [0.689, 1.5], "nice": false, "zero": false}, "axis": null},
                          "y": {"datum": 3.08, "type": "quantitative", "scale": {"domain": [0, 9.08], "nice": false, "zero": false}, "axis": null}}},
            {"data": {"values": [{}]}, "mark": {"type": "text", "text": "d)", "fontWeight": "bold", "align": "left", "baseline": "alphabetic"},
             "encoding": {"x": {"datum": 0.714, "type": "quantitative", "scale": {"type": "pow", "exponent": -1, "domain": [0.689, 1.5], "nice": false, "zero": false}, "axis": null},
                          "y": {"datum": 0.60, "type": "quantitative", "scale": {"domain": [0, 9.08], "nice": false, "zero": false}, "axis": null}}},
            {"data": {"values": [{}]}, "mark": {"type": "text", "text": "T", "fontStyle": "italic", "align": "left", "baseline": "alphabetic"},
             "encoding": {"x": {"datum": 0.8198, "type": "quantitative", "scale": {"type": "pow", "exponent": -1, "domain": [0.689, 1.5], "nice": false, "zero": false}, "axis": null},
                          "y": {"datum": -1.868, "type": "quantitative", "scale": {"domain": [0, 9.08], "nice": false, "zero": false}, "axis": null}}},
            {"data": {"values": [{}]}, "mark": {"type": "text", "text": "average", "fontSize": 25, "dx": 15, "dy": 14, "align": "left", "baseline": "alphabetic"},
             "encoding": {"x": {"datum": 0.8198, "type": "quantitative", "scale": {"type": "pow", "exponent": -1, "domain": [0.689, 1.5], "nice": false, "zero": false}, "axis": null},
                          "y": {"datum": -1.868, "type": "quantitative", "scale": {"domain": [0, 9.08], "nice": false, "zero": false}, "axis": null}}},
            {"data": {"values": [{}]}, "mark": {"type": "text", "text": "(K)", "dx": 116, "align": "left", "baseline": "alphabetic"},
             "encoding": {"x": {"datum": 0.8198, "type": "quantitative", "scale": {"type": "pow", "exponent": -1, "domain": [0.689, 1.5], "nice": false, "zero": false}, "axis": null},
                          "y": {"datum": -1.868, "type": "quantitative", "scale": {"domain": [0, 9.08], "nice": false, "zero": false}, "axis": null}}}
          ]
        }
      ]
    }
  ]
}
